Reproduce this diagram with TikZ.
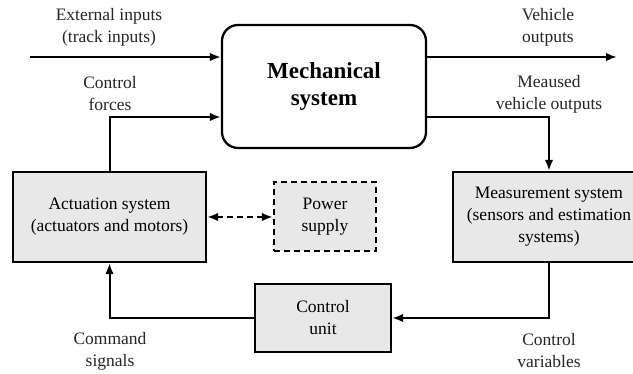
\documentclass[tikz,border=0pt]{standalone}
\usepackage{fontspec}
\setmainfont{Liberation Serif}
\usetikzlibrary{arrows.meta,calc}

\definecolor{boxgray}{HTML}{E8E8E8}
\tikzset{
  blk/.style={draw=black, line width=2.3pt, fill=boxgray, align=center,
    inner sep=0pt, font=\fontsize{17.5}{22}\selectfont},
  lbl/.style={align=center, inner sep=0pt, text=black!85,
    font=\fontsize{17.5}{22}\selectfont},
  flow/.style={line width=2pt, -{Latex[length=11pt,width=8.5pt]}},
  dflow/.style={line width=2pt, dash pattern=on 6pt off 4pt,
    {Latex[length=11pt,width=8.5pt]}-{Latex[length=11pt,width=8.5pt]}},
}

\begin{document}
\begin{tikzpicture}[x=1pt,y=-1pt]
  \clip (0,0) rectangle (633,374);
  \fill[white] (0,0) rectangle (633,374);

  % blocks
  \node[blk, fill=white, rounded corners=16pt, minimum width=204pt, minimum height=123pt,
        font=\bfseries\fontsize{23}{27}\selectfont] (mech) at (324,86.5) {Mechanical\\system};
  \node[blk, minimum width=193pt, minimum height=90pt] (act) at (109.5,217)
        {Actuation system\\(actuators and motors)};
  \node[blk, minimum width=192pt, minimum height=90pt] (meas) at (549,217)
        {Measurement system\\(sensors and estimation\\systems)};
  \node[blk, dash pattern=on 6pt off 4pt, minimum width=102pt, minimum height=69pt] (power)
        at (325,216.5) {Power\\supply};
  \node[blk, minimum width=136pt, minimum height=68pt] (ctrl) at (323,318) {Control\\unit};

  % free ends and bend levels
  \coordinate (in0) at (30,57);
  \coordinate (out0) at (617,57);
  \coordinate (lvl) at (0,117);

  % connectors
  \draw[flow] (in0) -- (mech.west |- in0);
  \draw[flow] (mech.east |- out0) -- (out0);
  \draw[flow] (act.north) |- (mech.west |- lvl);
  \draw[flow] (mech.east |- lvl) -| (meas.north);
  \draw[flow] (meas.south) |- (ctrl.east);
  \draw[flow] (ctrl.west) -| (act.south);
  \draw[dflow] (act.east) -- (power.west |- act.east);

  % labels
  \node[lbl] (l1) at (109,27) {External inputs\\(track inputs)};
  \node[lbl] (l2) at (548,27) {Vehicle\\outputs};
  \node[lbl] (l3) at (110,94) {Control\\forces};
  \node[lbl] (l4) at (549,94) {Meaused\\vehicle outputs};
  \node[lbl] (l5) at (110,351) {Command\\signals};
  \node[lbl] (l6) at (549,351) {Control\\variables};
\end{tikzpicture}
\end{document}
